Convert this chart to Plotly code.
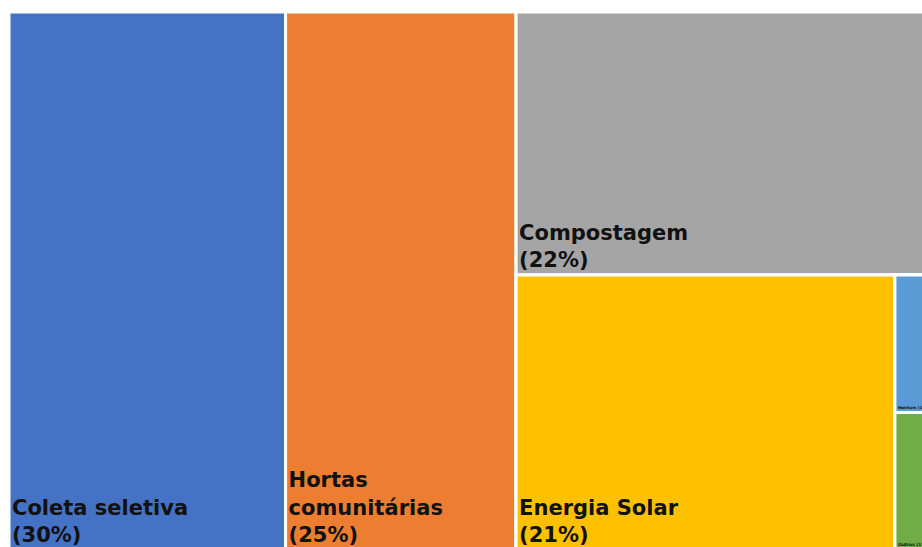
import plotly.graph_objects as go

# leaf categories and their share (%)
categorias = ["Coleta seletiva", "Hortas comunitárias", "Compostagem", "Energia Solar", "Nenhum", "Outros"]
rotulos = ["Coleta seletiva", "Hortas<br>comunitárias", "Compostagem", "Energia Solar", "Nenhum (1%)", "Outros (1%)"]
percentuais = [30, 25, 22, 21, 1, 1]
cores = ["#4472C4", "#ED7D31", "#A5A5A5", "#FFC000", "#5B9BD5", "#70AD47"]

# grouping used to reproduce the Excel treemap layout
pais = ["", "", "g1", "g2", "g3", "g3"]
grupos = ["g1", "g2", "g3"]
grupos_pais = ["", "g1", "g2"]

ids, labels, parents, values, texts, colors = [], [], [], [], [], []
for c, r, p, cor, pai in zip(categorias, rotulos, percentuais, cores, pais):
    ids.append(c)
    labels.append(c)
    parents.append(pai)
    values.append(p)
    texts.append(r if "(" in r else f"{r}<br>({p}%)")
    colors.append(cor)


def soma(g):
    total = 0
    for i, pai in enumerate(parents):
        if pai == g:
            total += values[i] if ids[i] not in grupos else soma(ids[i])
    return total


for g, gp in zip(grupos, grupos_pais):
    ids.append(g)
    labels.append("")
    parents.append(gp)
    values.append(0)
    texts.append("")
    colors.append("#FFFFFF")
for i, idv in enumerate(ids):
    if idv in grupos:
        values[i] = soma(idv)

fig = go.Figure(go.Treemap(
    ids=ids,
    labels=labels,
    parents=parents,
    values=values,
    text=texts,
    textinfo="text",
    branchvalues="total",
    sort=False,
    tiling=dict(packing="slice-dice", pad=0),
    marker=dict(colors=colors, line=dict(color="white", width=3), pad=dict(t=0, l=0, r=0, b=0)),
    textposition="bottom left",
    textfont=dict(family="DejaVu Sans", size=21, color="#111111", weight="bold"),
    pathbar=dict(visible=False),
    root=dict(color="white"),
))

# the reference treemap runs slightly past the right and bottom edges
fig.update_layout(
    width=931,
    height=550,
    margin=dict(l=9, r=0, t=12, b=0),
    paper_bgcolor="white",
)

fig.write_html(
    "out.html",
    config={"displayModeBar": False},
    post_script="document.body.style.margin='0';document.body.style.overflow='hidden';",
)
